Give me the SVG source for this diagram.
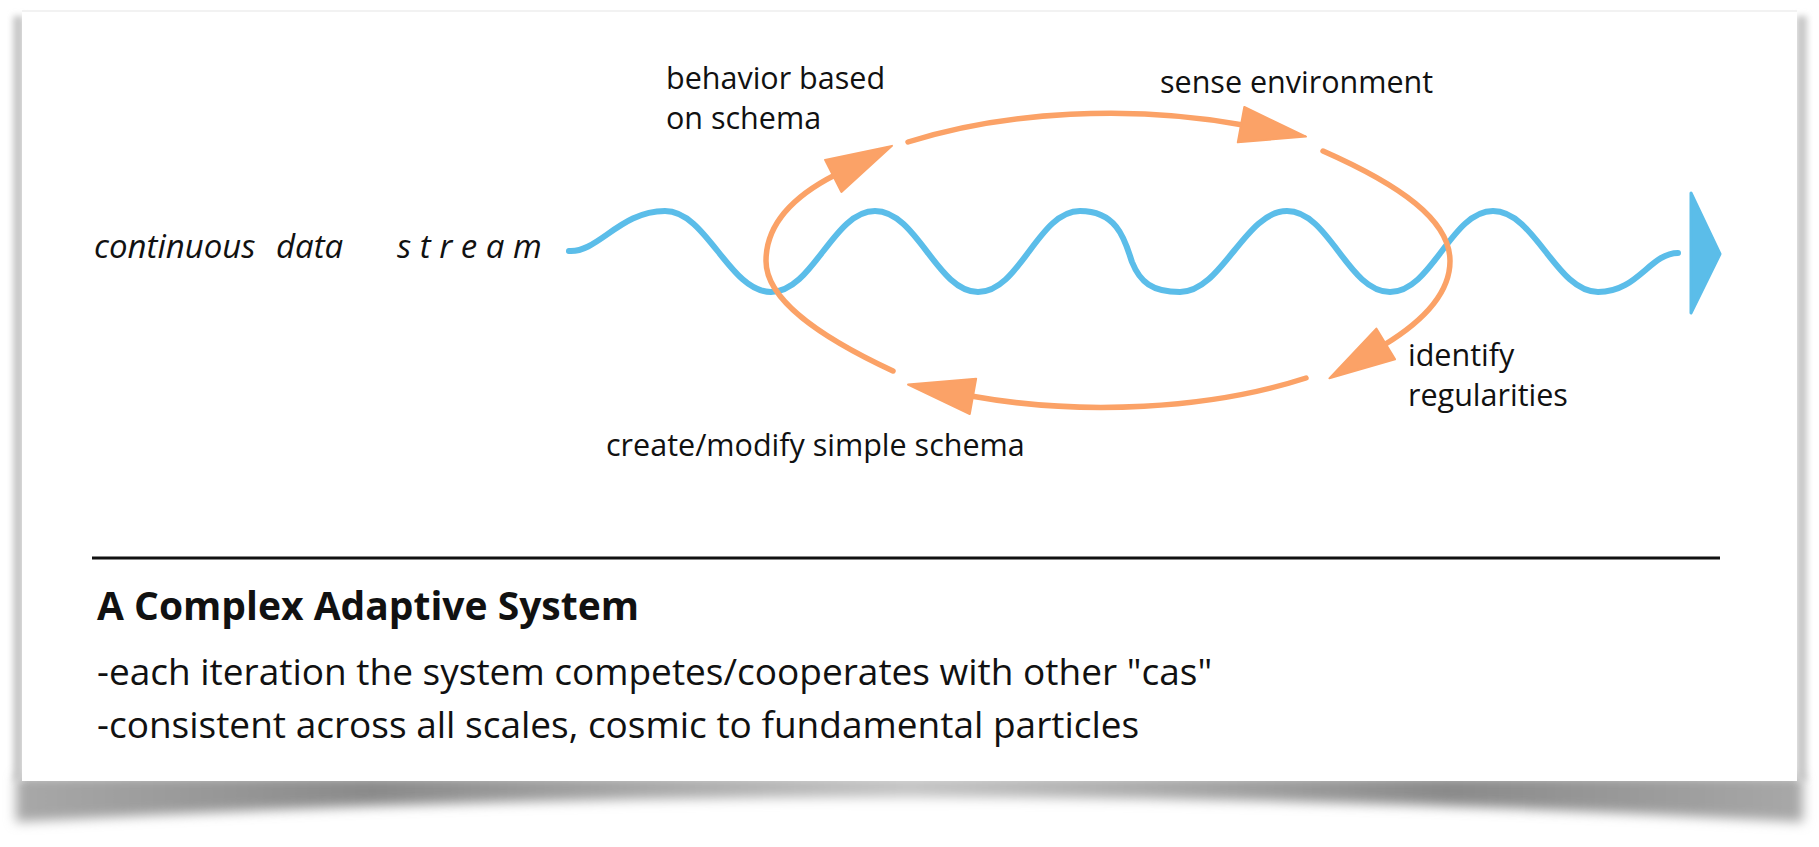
<svg xmlns="http://www.w3.org/2000/svg" width="1819" height="847" viewBox="0 0 1819 847">
  <defs>
    <style>
      .lbl { font-family: "Open Sans", "Liberation Sans", sans-serif; font-size: 30.5px; fill: #111; }
      .ital { font-family: "Open Sans", "Liberation Sans", sans-serif; font-size: 33px; font-style: italic; fill: #111; }
      .head { font-family: "Open Sans", "Liberation Sans", sans-serif; font-size: 39px; font-weight: bold; fill: #111; }
      .body { font-family: "Open Sans", "Liberation Sans", sans-serif; font-size: 37px; fill: #111; }
      .loop { fill: none; stroke: #FBA267; stroke-width: 5.5; stroke-linecap: round; marker-end: url(#ohead); }
      .wave { fill: none; stroke: #5BBDE9; stroke-width: 6; stroke-linecap: round; stroke-linejoin: round; }
    </style>
    <marker id="ohead" markerUnits="userSpaceOnUse" viewBox="0 0 70 40" refX="2" refY="20" markerWidth="70" markerHeight="40" orient="auto" overflow="visible">
      <path d="M0,2 L66,20 L0,38 Z" fill="#FBA267" stroke="#FBA267" stroke-width="2" stroke-linejoin="round"/>
    </marker>
    <filter id="blur6" x="-10%" y="-50%" width="120%" height="200%">
      <feGaussianBlur stdDeviation="6"/>
    </filter>
    <filter id="blur3" x="-50%" y="-5%" width="200%" height="110%">
      <feGaussianBlur stdDeviation="3"/>
    </filter>
    <linearGradient id="shadowGrad" x1="0" y1="0" x2="1" y2="0">
      <stop offset="0" stop-color="#a8a8a8"/>
      <stop offset="0.2" stop-color="#8a8a8a"/>
      <stop offset="0.5" stop-color="#c4c4c4"/>
      <stop offset="0.8" stop-color="#8a8a8a"/>
      <stop offset="1" stop-color="#a8a8a8"/>
    </linearGradient>
  </defs>

  <rect x="0" y="0" width="1819" height="847" fill="#ffffff"/>

  <g id="card">
    <path d="M16,776 L1803,776 L1803,822 Q910,772 16,822 Z" fill="url(#shadowGrad)" filter="url(#blur6)"/>
    <rect x="13" y="16" width="11" height="765" fill="#c8c8c8" filter="url(#blur3)"/>
    <rect x="1796" y="16" width="11" height="765" fill="#c8c8c8" filter="url(#blur3)"/>
    <rect x="22" y="11" width="1775" height="770" fill="#ffffff"/>
    <line x1="22" y1="11" x2="1797" y2="11" stroke="#f2f2f2" stroke-width="2"/>
  </g>

  <g id="connectors">
    <path id="data-stream" class="wave" d="M 569 251 C 598 253 620 211 665 211 C 707 211 729 292 771 292 C 813 292 833 211 875 211 C 917 211 937 292 978 292 C 1020 292 1038 211 1080 211 C 1120 211 1126 245 1132 262 C 1140 282 1152 292 1180 292 C 1222 292 1245 211 1287 211 C 1329 211 1348 292 1390 292 C 1432 292 1451 211 1493 211 C 1535 211 1556 292 1598 292 C 1638 292 1650 253 1678 253"/>
    <path id="stream-head" d="M1691,193 L1720,254 L1691,313 Z" fill="#5BBDE9" stroke="#5BBDE9" stroke-width="3" stroke-linejoin="round"/>
    <path id="loop-top" class="loop" d="M 908 142 A 342 149 0 0 1 1243 125"/>
    <path id="loop-right" class="loop" d="M 1323 151 C 1400 185 1450 220 1450 261 C 1450 292 1425 320 1384 345"/>
    <path id="loop-bottom" class="loop" d="M 1306 378 A 342 149 0 0 1 971 396"/>
    <path id="loop-left" class="loop" d="M 893 371 C 820 337 766 300 766 261 C 766 226 790 198 835 175"/>
  </g>

  <g id="label-stream">
    <text class="ital" x="94" y="258">continuous <tspan x="276">data</tspan></text>
    <text class="ital" x="397" y="258">s t r e a m</text>
  </g>
  <g id="label-behavior">
    <text class="lbl" x="666" y="89">behavior based</text>
    <text class="lbl" x="666" y="129">on schema</text>
  </g>
  <g id="label-sense">
    <text class="lbl" x="1160" y="93">sense environment</text>
  </g>
  <g id="label-identify">
    <text class="lbl" x="1408" y="366">identify</text>
    <text class="lbl" x="1408" y="406">regularities</text>
  </g>
  <g id="label-create">
    <text class="lbl" x="606" y="456">create/modify simple schema</text>
  </g>

  <g id="caption">
    <line x1="92" y1="558" x2="1720" y2="558" stroke="#111" stroke-width="3"/>
    <text class="head" x="97" y="620">A Complex Adaptive System</text>
    <text class="body" x="97" y="685">-each iteration the system competes/cooperates with other "cas"</text>
    <text class="body" x="97" y="738">-consistent across all scales, cosmic to fundamental particles</text>
  </g>
</svg>
